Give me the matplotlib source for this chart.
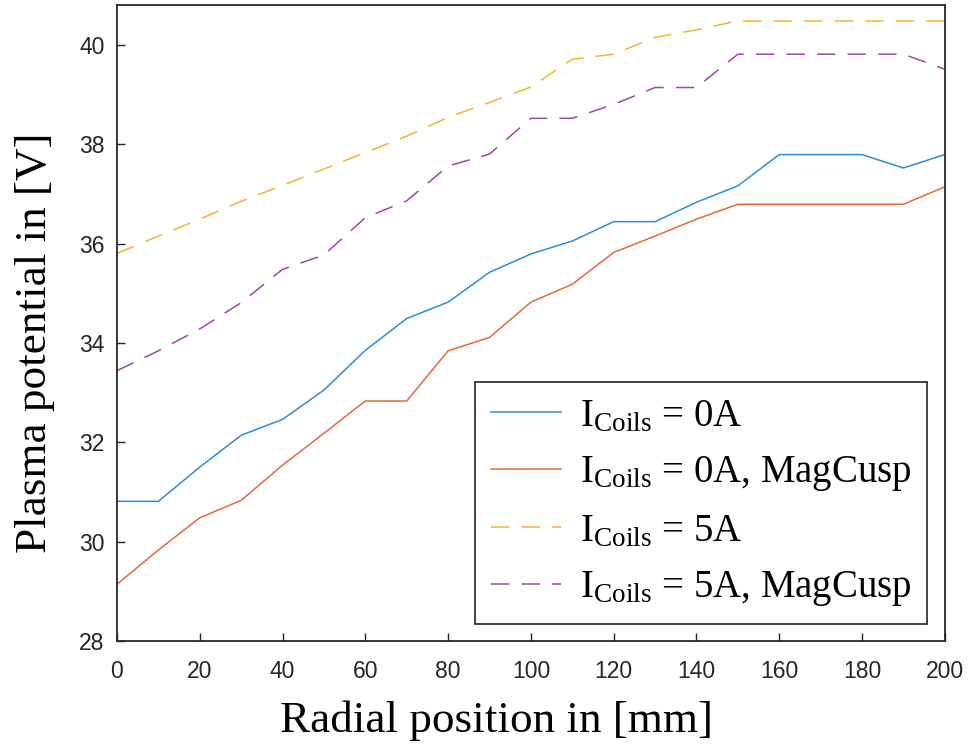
import matplotlib
matplotlib.use("Agg")
import matplotlib.pyplot as plt

x_mm = [0, 10, 20, 30, 40, 50, 60, 70, 80, 90, 100, 110, 120, 130, 140, 150, 160, 170, 180, 190, 200]
coils0 = [30.81, 30.81, 31.5, 32.14, 32.46, 33.05, 33.85, 34.49, 34.82, 35.42, 35.79, 36.05, 36.44, 36.44, 36.83, 37.16, 37.79, 37.79, 37.79, 37.52, 37.79]
coils0_cusp = [29.14, 29.83, 30.48, 30.83, 31.54, 32.18, 32.83, 32.83, 33.84, 34.11, 34.82, 35.18, 35.82, 36.15, 36.49, 36.79, 36.79, 36.79, 36.79, 36.79, 37.14]
coils5 = [35.8, 36.15, 36.49, 36.85, 37.17, 37.5, 37.83, 38.16, 38.54, 38.84, 39.15, 39.71, 39.81, 40.15, 40.3, 40.48, 40.48, 40.48, 40.48, 40.48, 40.48]
coils5_cusp = [33.44, 33.84, 34.28, 34.81, 35.48, 35.77, 36.52, 36.86, 37.56, 37.8, 38.52, 38.52, 38.8, 39.14, 39.14, 39.81, 39.81, 39.81, 39.81, 39.81, 39.51]
labels = [r"I$_{\mathrm{Coils}}$ = 0A", r"I$_{\mathrm{Coils}}$ = 0A, MagCusp",
          r"I$_{\mathrm{Coils}}$ = 5A", r"I$_{\mathrm{Coils}}$ = 5A, MagCusp"]
x_ticks = [0, 20, 40, 60, 80, 100, 120, 140, 160, 180, 200]
y_ticks = [28, 30, 32, 34, 36, 38, 40]

plt.rcParams['mathtext.fontset'] = 'custom'
plt.rcParams['mathtext.rm'] = 'Liberation Serif'
plt.rcParams['mathtext.it'] = 'Liberation Serif:italic'

fig = plt.figure(figsize=(9.7, 7.51), dpi=100)
ax = fig.add_axes([0.1206, 0.1465, 0.974 - 0.1206, 0.9933 - 0.1465])

c_blue = "#2a8fd6"
c_orange = "#e8683a"
c_yellow = "#f2b530"
c_purple = "#9a4aa8"

ax.plot(x_mm, coils0, color=c_blue, lw=1.1, label=labels[0])
ax.plot(x_mm, coils0_cusp, color=c_orange, lw=1.1, label=labels[1])
ax.plot(x_mm, coils5, color=c_yellow, lw=1.1, dashes=(12, 8), label=labels[2])
ax.plot(x_mm, coils5_cusp, color=c_purple, lw=1.1, dashes=(12, 8), label=labels[3])

ax.set_xlim(0, 200)
ax.set_ylim(28, 40.8)
ax.set_xticks(x_ticks)
ax.set_yticks(y_ticks)
ax.tick_params(axis='x', pad=14)
ax.tick_params(axis='y', pad=9)
ax.tick_params(direction='in', length=6, width=1, labelsize=16.5, colors='#262626')
for lab in ax.get_xticklabels() + ax.get_yticklabels():
    lab.set_fontfamily("Liberation Sans")
for s in ax.spines.values():
    s.set_linewidth(1.3)
    s.set_color('#262626')

ax.set_xlabel("Radial position in [mm]", family="Liberation Serif", fontsize=32.5)
ax.set_ylabel("Plasma potential in [V]", family="Liberation Serif", fontsize=32.5)
ax.xaxis.set_label_coords(0.459, -0.093)
ax.yaxis.set_label_coords(-0.075, 0.469)

leg = ax.legend(loc='lower right', bbox_to_anchor=(0.979, 0.027), prop={'family': 'Liberation Serif', 'size': 28},
                frameon=True, fancybox=False, edgecolor='black', handlelength=1.8, borderpad=0.4,
                labelspacing=0.5, handletextpad=0.5, borderaxespad=0)
leg.get_frame().set_linewidth(1.3)

fig.savefig("out.png", dpi=100)
